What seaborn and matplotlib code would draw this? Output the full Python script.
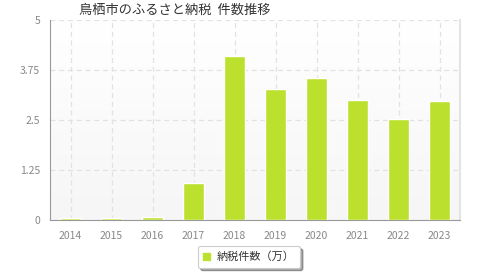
import numpy as np
import pandas as pd
import matplotlib.pyplot as plt
import seaborn as sns
from matplotlib.patches import Patch
from matplotlib.colors import LinearSegmentedColormap

# data
years = ["2014", "2015", "2016", "2017", "2018", "2019", "2020", "2021", "2022", "2023"]
counts = [0.05, 0.05, 0.065, 0.92, 4.10, 3.27, 3.55, 3.00, 2.52, 2.98]
yticks = [0, 1.25, 2.5, 3.75, 5]
ytick_labels = ["0", "1.25", "2.5", "3.75", "5"]

sns.set_style("white")
plt.rcParams['font.family'] = ['Noto Sans CJK JP', 'DejaVu Sans']

df = pd.DataFrame({"year": years, "count": counts})

fig = plt.figure(figsize=(4.8, 2.8), dpi=100)
ax = fig.add_axes([50 / 480, 60 / 280, 410 / 480, 200 / 280])

# soft vertical gradient in the plot area (white at top, light grey at bottom)
grad = np.linspace(0, 1, 100).reshape(-1, 1)
bg = LinearSegmentedColormap.from_list("bg", ["#ffffff", "#f6f6f6"])
ax.imshow(grad, extent=[-0.5, 9.5, 0, 5], aspect="auto", origin="upper",
          cmap=bg, zorder=0)

sns.barplot(data=df, x="year", y="count", color="#bce02e", width=0.49,
            saturation=1, ax=ax, zorder=3)

ax.set_xlim(-0.5, 9.5)
ax.set_ylim(0, 5)
ax.set_yticks(yticks)
ax.set_yticklabels(ytick_labels)
ax.set_xlabel("")
ax.set_ylabel("")

ax.grid(True, axis="both", color="#e2e2e2", linestyle=(0, (4, 3)), linewidth=0.9, zorder=1)
ax.set_axisbelow(True)

ax.spines["top"].set_visible(False)
ax.spines["right"].set_color("#e4e4e4")
ax.spines["right"].set_linewidth(1.5)
ax.spines["left"].set_color("#999999")
ax.spines["bottom"].set_color("#999999")
ax.tick_params(axis="both", direction="out", length=4, width=0.8, color="#999999",
               labelcolor="#888888", labelsize=7.5, pad=3)
ax.tick_params(axis="x", pad=4)

fig.text(175 / 480, 1 - 10 / 280, "鳥栖市のふるさと納税  件数推移", ha="center", va="center",
         fontsize=9.5, color="#333333")

leg = fig.legend(handles=[Patch(color="#bce02e", label="納税件数（万）")],
                 loc="center", bbox_to_anchor=(249 / 480, 1 - 257 / 280),
                 fontsize=8, frameon=True, fancybox=True, shadow=True,
                 handlelength=0.6, handleheight=0.6, handletextpad=0.6,
                 borderpad=0.5, labelcolor="#333333")
leg.get_frame().set_edgecolor("#cccccc")
leg.get_frame().set_linewidth(0.8)

fig.savefig("out.png", dpi=100)
